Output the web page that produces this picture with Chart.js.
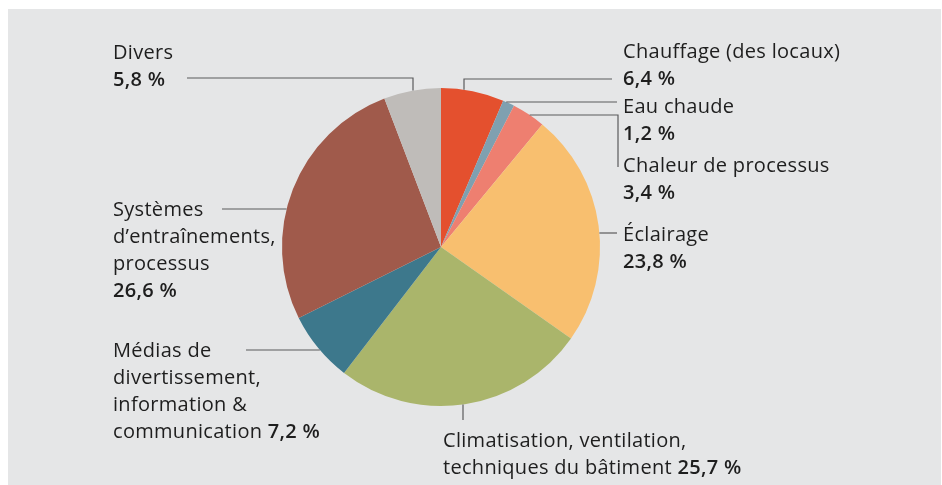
<!DOCTYPE html>
<html lang="fr">
<head>
  <meta charset="UTF-8">
  <title>Consommation d'électricité</title>
  <script src="https://cdn.jsdelivr.net/npm/chart.js"></script>
  <style>
    body {
      margin: 0;
      background: #fff;
    }
    .wrap {
      position: relative;
      width: 942px;
      height: 485px;
    }
    .bg {
      position: absolute;
      left: 8px;
      top: 9px;
      width: 933px;
      height: 476px;
      background: #e5e6e7;
    }
    canvas {
      position: absolute;
      left: 0;
      top: 0;
    }
  </style>
</head>
<body>
  <div class="wrap">
    <div class="bg"></div>
    <canvas id="pie" width="942" height="485"></canvas>
  </div>

  <script>
    // données (sens horaire depuis le haut)
    const categories = [
      'Chauffage (des locaux)',
      'Eau chaude',
      'Chaleur de processus',
      'Éclairage',
      'Climatisation, ventilation, techniques du bâtiment',
      'Médias de divertissement, information & communication',
      'Systèmes d’entraînements, processus',
      'Divers'
    ];
    const shares = [6.4, 1.2, 3.4, 23.8, 25.7, 7.2, 26.6, 5.8];
    const sliceColors = ['#e4502e', '#7fa0b0', '#ee7f70', '#f8bf6f', '#aab56b', '#3d788c', '#a05a4b', '#bfbcb9'];

    const FONT = '"Open Sans", "Noto Sans", sans-serif';
    const LH = 27;

    // mise en page des étiquettes (une entrée par catégorie)
    const labelLayout = [
      { x: 623, y: 58, lines: ['Chauffage (des locaux)'], inline: false,
        leader: e => [[612, 79], [464, 79], [464, e.top(464)]] },
      { x: 623, y: 113, lines: ['Eau chaude'], inline: false,
        leader: e => [[617, 102], [e.right(102), 102]] },
      { x: 623, y: 172, lines: ['Chaleur de processus'], inline: false,
        leader: e => [[618, 167], [618, 115], [e.right(115), 115]] },
      { x: 623, y: 241, lines: ['Éclairage'], inline: false,
        leader: e => [[617, 233], [e.right(233), 233]] },
      { x: 443, y: 447, lines: ['Climatisation, ventilation,', 'techniques du bâtiment'], inline: true,
        leader: e => [[463, 420], [463, e.bottom(463)]] },
      { x: 113, y: 357, lines: ['Médias de', 'divertissement,', 'information &', 'communication'], inline: true,
        leader: e => [[246, 350], [e.left(350), 350]] },
      { x: 113, y: 216, lines: ['Systèmes', 'd’entraînements,', 'processus'], inline: false,
        leader: e => [[222, 209], [e.left(209), 209]] },
      { x: 113, y: 59, lines: ['Divers'], inline: false,
        leader: e => [[187, 78], [413, 78], [413, e.top(413)]] }
    ];

    const fmtPct = v => v.toFixed(1).replace('.', ',') + ' %';

    const labelPlugin = {
      id: 'pieLabels',
      afterDatasetsDraw(chart) {
        const ctx = chart.ctx;
        const arc = chart.getDatasetMeta(0).data[0];
        const cx = arc.x, cy = arc.y, r = arc.outerRadius;
        const e = {
          top: x => cy - Math.sqrt(r * r - (x - cx) * (x - cx)),
          bottom: x => cy + Math.sqrt(r * r - (x - cx) * (x - cx)),
          left: y => cx - Math.sqrt(r * r - (y - cy) * (y - cy)),
          right: y => cx + Math.sqrt(r * r - (y - cy) * (y - cy))
        };

        ctx.save();
        ctx.letterSpacing = '0.3px';
        labelLayout.forEach((lab, i) => {
          // trait de rappel
          const pts = lab.leader(e);
          ctx.strokeStyle = '#5a5b5d';
          ctx.lineWidth = 1.2;
          ctx.beginPath();
          pts.forEach((p, k) => k ? ctx.lineTo(p[0], p[1]) : ctx.moveTo(p[0], p[1]));
          ctx.stroke();

          // texte
          ctx.fillStyle = '#1e1e1e';
          ctx.textBaseline = 'alphabetic';
          ctx.textAlign = 'left';
          let y = lab.y;
          lab.lines.forEach((line, k) => {
            ctx.font = '400 20px ' + FONT;
            ctx.fillText(line, lab.x, y);
            if (lab.inline && k === lab.lines.length - 1) {
              const w = ctx.measureText(line + ' ').width;
              ctx.font = '600 20px ' + FONT;
              ctx.fillText(fmtPct(shares[i]), lab.x + w, y);
            }
            y += LH;
          });
          if (!lab.inline) {
            ctx.font = '600 20px ' + FONT;
            ctx.fillText(fmtPct(shares[i]), lab.x, y);
          }
        });
        ctx.restore();
      }
    };

    new Chart(document.getElementById('pie'), {
      type: 'pie',
      data: {
        labels: categories,
        datasets: [{
          data: shares,
          backgroundColor: sliceColors,
          borderWidth: 0
        }]
      },
      options: {
        responsive: false,
        animation: false,
        layout: {
          padding: { left: 282, right: 342, top: 88, bottom: 79 }
        },
        plugins: {
          legend: { display: false },
          tooltip: { enabled: false }
        }
      },
      plugins: [labelPlugin]
    });
  </script>
</body>
</html>
